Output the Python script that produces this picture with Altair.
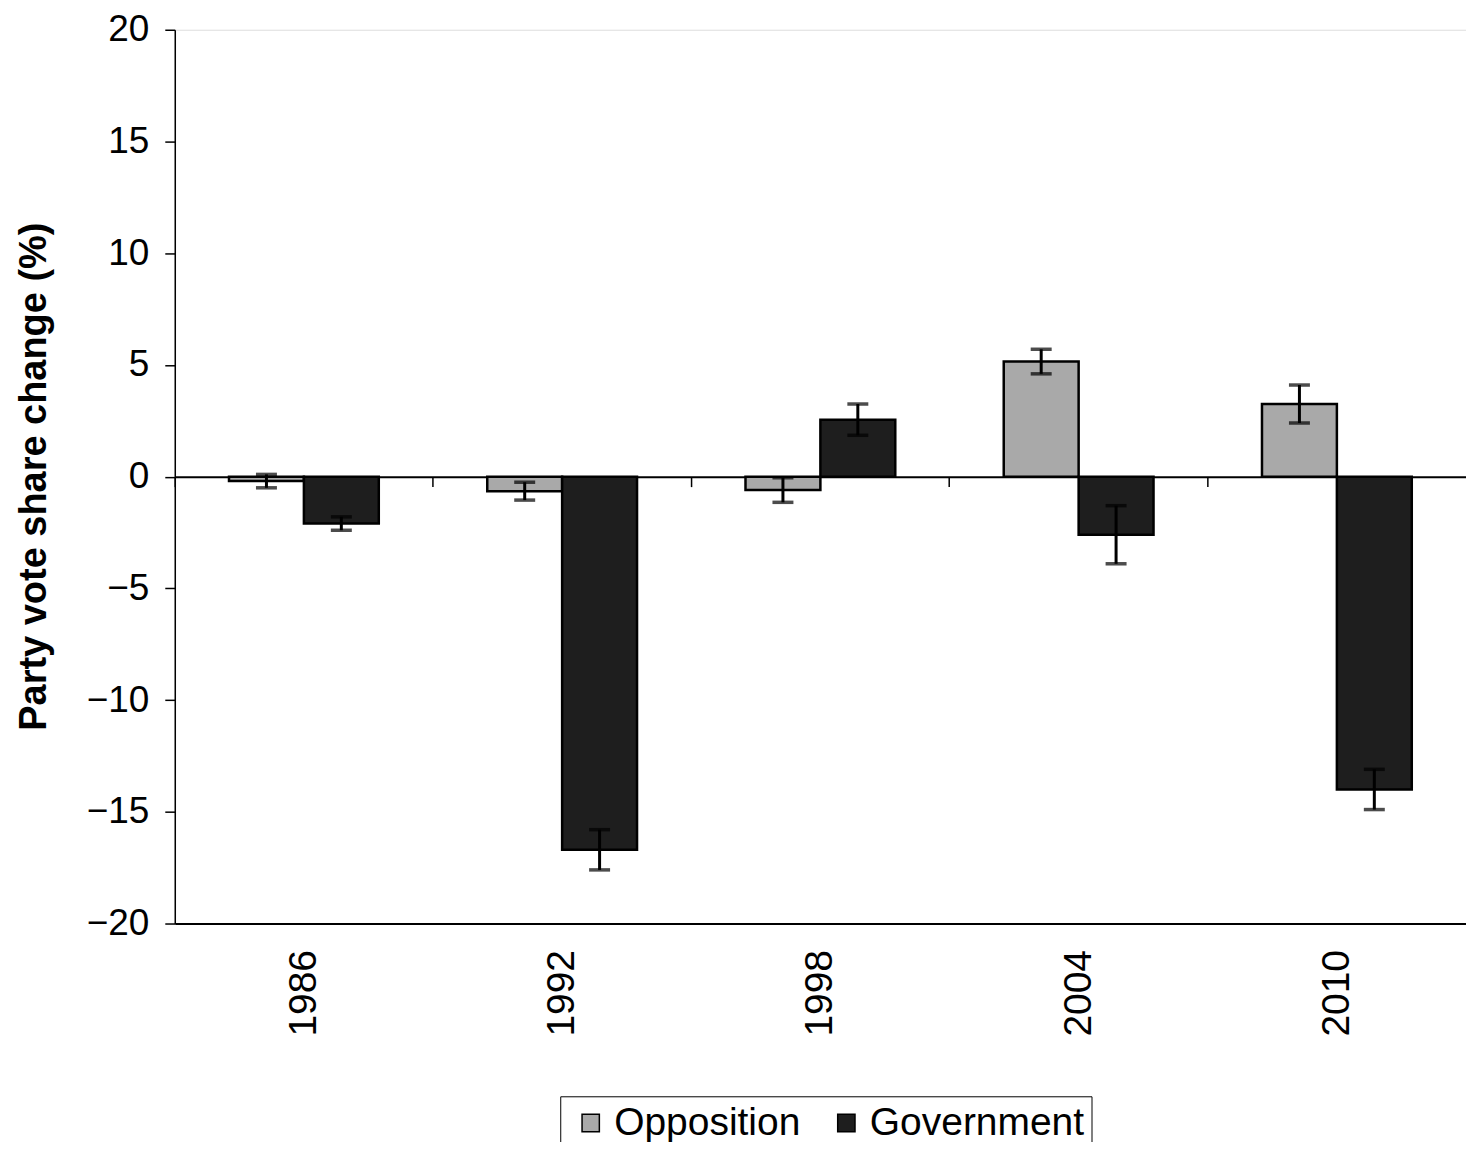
import altair as alt
import pandas as pd

years = ["1986", "1992", "1998", "2004", "2010"]
opposition = [-0.2, -0.65, -0.6, 5.15, 3.25]
government = [-2.1, -16.7, 2.55, -2.6, -14.0]
opposition_err = [0.3, 0.4, 0.55, 0.55, 0.85]
government_err = [0.3, 0.9, 0.7, 1.3, 0.9]
parties = ["Opposition", "Government"]
colors = ["#a9a9a9", "#1e1e1e"]

rows = []
for i, y in enumerate(years):
    rows.append({"year": y, "party": "Opposition", "value": opposition[i],
                 "lo": opposition[i] - opposition_err[i], "hi": opposition[i] + opposition_err[i]})
    rows.append({"year": y, "party": "Government", "value": government[i],
                 "lo": government[i] - government_err[i], "hi": government[i] + government_err[i]})
df = pd.DataFrame(rows)
zdf = pd.DataFrame({"year": years, "zero": [0] * len(years)})

FONT = "Liberation Sans"

xscale = alt.Scale(domain=years, paddingInner=0.42, paddingOuter=0.21)
xoff = alt.XOffset("party:N", sort=parties, scale=alt.Scale(domain=parties))
yscale = alt.Scale(domain=[-20, 20], nice=False)

y_axis = alt.Axis(title="Party vote share change (%)", values=list(range(-20, 21, 5)),
                  grid=False, labelFontSize=37, labelFont=FONT, labelColor="black",
                  tickSize=10, tickColor="black", tickWidth=1.5, labelPadding=16,
                  domainColor="black", domainWidth=1.5,
                  titleFontSize=38, titleFont=FONT, titleFontWeight="bold",
                  titleColor="black", titleX=-140, titleY=447,
                  titleAlign="center", titleBaseline="middle", titleAngle=270)

x_enc = alt.X("year:N", sort=years, scale=xscale,
              axis=alt.Axis(title=None, labelAngle=270, labelFontSize=39, labelFont=FONT,
                            labelColor="black", ticks=False, domainColor="black",
                            domainWidth=2, labelPadding=26, labelAlign="right",
                            labelBaseline="middle", grid=False))

bars = alt.Chart(df).mark_bar(stroke="black", strokeWidth=2.5).encode(
    x=x_enc,
    xOffset=xoff,
    y=alt.Y("value:Q", scale=yscale, axis=y_axis),
    color=alt.Color("party:N", sort=parties,
                    scale=alt.Scale(domain=parties, range=colors),
                    legend=alt.Legend(title=None, orient="none", legendX=386, legendY=1068,
                                      direction="horizontal", strokeColor="black",
                                      padding=7, symbolType="square", symbolSize=300,
                                      symbolStrokeColor="black", symbolStrokeWidth=1.5,
                                      labelFontSize=39, labelFont=FONT, labelColor="black",
                                      columnPadding=22, labelLimit=400, symbolOffset=4)),
)

err = alt.Chart(df).mark_rule(color="black", strokeWidth=3).encode(
    x=alt.X("year:N", sort=years, scale=xscale),
    xOffset=xoff,
    y=alt.Y("lo:Q", scale=yscale, axis=y_axis),
    y2="hi:Q",
)
cap_lo = alt.Chart(df).mark_tick(color="black", thickness=3.5, size=21).encode(
    x=alt.X("year:N", sort=years, scale=xscale),
    xOffset=xoff,
    y=alt.Y("lo:Q", scale=yscale, axis=y_axis),
)
cap_hi = alt.Chart(df).mark_tick(color="black", thickness=3.5, size=21).encode(
    x=alt.X("year:N", sort=years, scale=xscale),
    xOffset=xoff,
    y=alt.Y("hi:Q", scale=yscale, axis=y_axis),
)

main = alt.layer(bars, err, cap_lo, cap_hi)

zero = alt.Chart(zdf).mark_tick(opacity=0).encode(
    x=alt.X("year:N", sort=years,
            scale=alt.Scale(domain=years, paddingInner=0, paddingOuter=0),
            axis=alt.Axis(orient="bottom", offset=-447.5, labels=False, title=None,
                          bandPosition=0, tickSize=10, tickColor="black", tickWidth=1.5,
                          domainColor="black", domainWidth=2, grid=False)),
    y=alt.Y("zero:Q", scale=yscale, axis=y_axis),
)

chart = alt.layer(main, zero).resolve_scale(x="independent").properties(
    width=1293, height=895,
    autosize=alt.AutoSizeParams(type="none"),
    padding={"left": 167, "top": 21, "right": 0, "bottom": 218},
).configure_view(stroke="transparent", strokeWidth=0).configure_axis(grid=False).configure(background="white")

chart.save("out.html", embed_options={"renderer": "svg", "actions": False})
